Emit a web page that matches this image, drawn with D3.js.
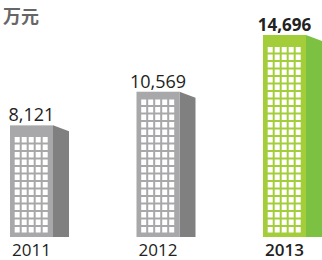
<!DOCTYPE html>
<html lang="zh">
<head>
  <meta charset="UTF-8">
  <title>万元</title>
  <script src="https://d3js.org/d3.v7.min.js"></script>
  <style>
    body { margin: 0; background: #fff; }
    text { font-family: "Open Sans", "Noto Sans", sans-serif; }
  </style>
</head>
<body>
<div class="main"></div>
<script>
  // chart data
  var years = ["2011", "2012", "2013"];
  var values = [8121, 10569, 14696];
  var valueLabels = ["8,121", "10,569", "14,696"];
  var unitLabel = "万元";

  let width = 322;
  let height = 260;
  let base = 237;
  let svg = d3.select(".main").append("svg").attr("width", width).attr("height", height).style("display", "block");

  let x = d3.scaleBand().domain(years).range([10, 306]).paddingInner(0.66).paddingOuter(0);
  let y = d3.scaleLinear().domain([0, 14696]).range([base, 35]);

  let sideW = 16;
  let colors = {
    front: ["#a8a8aa", "#a8a8aa", "#a4cd3a"],
    side: ["#808080", "#808080", "#7dc143"]
  };

  // unit label
  svg.append("text").attr("x", 3).attr("y", 23).style("font-size", "18px").style("font-weight", "bold")
    .style("fill", "#666").style("font-family", "'Noto Sans CJK SC', sans-serif").text(unitLabel);

  for (let i = 0; i < years.length; i++) {
    let x0 = x(years[i]);
    let bw = x.bandwidth();
    let top = y(values[i]);

    // side face with slanted top
    let pts = [[x0 + bw, top], [x0 + bw + sideW, top + 6], [x0 + bw + sideW, base], [x0 + bw, base]];
    svg.append("polygon").attr("points", pts.map(p => p.join(",")).join(" ")).style("fill", colors.side[i]);

    // front face
    svg.append("rect").attr("x", x0).attr("y", top).attr("width", bw).attr("height", base - top).style("fill", colors.front[i]);

    // windows, built up from the bottom
    let winW = 5, winH = 5.5, colStep = 7, rowStep = 7.5;
    let wx0 = x0 + 4.7;
    let wy = base - 4.5 - winH;
    while (wy >= top + 5) {
      for (let c = 0; c < 5; c++) {
        svg.append("rect").attr("x", wx0 + c * colStep).attr("y", wy).attr("width", winW).attr("height", winH).style("fill", "#fff");
      }
      wy -= rowStep;
    }

    let last = i == years.length - 1;
    // value label
    svg.append("text").attr("x", x0 + bw / 2).attr("y", top - 4).attr("text-anchor", "middle")
      .style("font-size", last ? "17px" : "18px").style("font-weight", last ? "bold" : "normal").style("fill", "#222")
      .text(valueLabels[i]);

    // year label
    svg.append("text").attr("x", x0 + bw / 2).attr("y", 256).attr("text-anchor", "middle")
      .style("font-size", "17px").style("font-weight", last ? "600" : "normal").style("fill", "#222")
      .text(years[i]);
  }
</script>
</body>
</html>
